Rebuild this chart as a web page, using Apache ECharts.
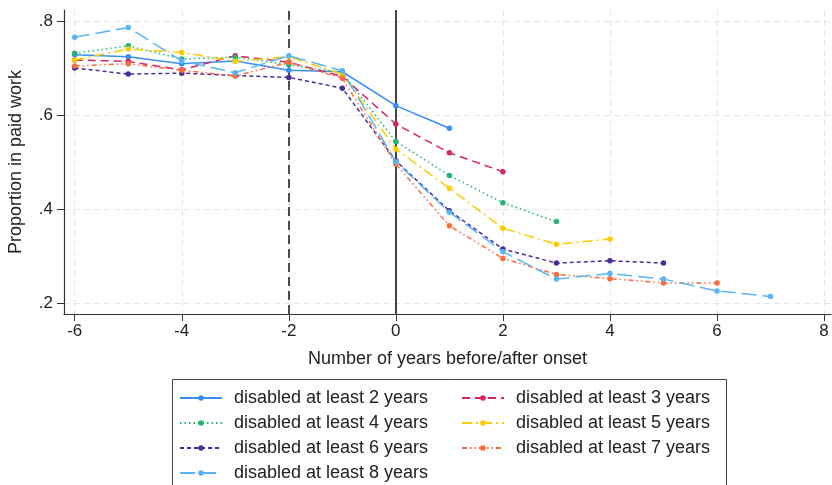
<!DOCTYPE html>
<html>
<head>
<meta charset="utf-8">
<title>Proportion in paid work</title>
<script src="https://cdn.jsdelivr.net/npm/echarts@6.0.0/dist/echarts.min.js"></script>
<style>
  html, body { margin: 0; padding: 0; background: #fff; }
  #chart { width: 832px; height: 485px; }
</style>
</head>
<body>
<div id="chart"></div>
<script>
// years relative to onset, each group starts at -6
var years = [-6, -5, -4, -3, -2, -1, 0, 1, 2, 3, 4, 5, 6, 7];
var xTicks = [-6, -4, -2, 0, 2, 4, 6, 8];
var yTicks = [0.2, 0.4, 0.6, 0.8];

var names = ['disabled at least 2 years', 'disabled at least 3 years', 'disabled at least 4 years',
             'disabled at least 5 years', 'disabled at least 6 years', 'disabled at least 7 years',
             'disabled at least 8 years'];

var d2 = [0.728, 0.724, 0.709, 0.715, 0.695, 0.692, 0.620, 0.572];
var d3 = [0.717, 0.714, 0.696, 0.726, 0.712, 0.682, 0.581, 0.520, 0.480];
var d4 = [0.731, 0.747, 0.719, 0.723, 0.707, 0.690, 0.544, 0.472, 0.414, 0.374];
var d5 = [0.717, 0.740, 0.733, 0.714, 0.724, 0.687, 0.528, 0.445, 0.360, 0.326, 0.337];
var d6 = [0.700, 0.687, 0.689, 0.684, 0.680, 0.657, 0.503, 0.397, 0.316, 0.286, 0.291, 0.286];
var d7 = [0.704, 0.709, 0.695, 0.683, 0.712, 0.678, 0.496, 0.365, 0.296, 0.262, 0.253, 0.244, 0.244];
var d8 = [0.765, 0.786, 0.715, 0.690, 0.726, 0.694, 0.501, 0.394, 0.310, 0.252, 0.264, 0.252, 0.227, 0.215];

var groups = [d2, d3, d4, d5, d6, d7, d8];
var colors = ['#3a8ef3', '#d8245f', '#22b573', '#fccb00', '#4b2c9b', '#fd6a3c', '#58b6f7'];
var dashes = ['solid', [8, 5], [1.5, 3], [10, 4, 2, 4], [4, 3], [5, 3, 1.5, 3, 1.5, 3], [15, 6]];

var font = 'Liberation Sans, Helvetica, Arial, sans-serif';

var chart = echarts.init(document.getElementById('chart'));

var series = groups.map(function (vals, i) {
  var s = {
    name: names[i],
    type: 'line',
    data: vals.map(function (v, j) { return [years[j], v]; }),
    symbol: 'circle',
    symbolSize: 5.5,
    color: colors[i],
    lineStyle: { width: 1.5, type: dashes[i], color: colors[i] },
    itemStyle: { color: colors[i] },
    z: 3 + i
  };
  if (i === 0) {
    s.markLine = {
      silent: true,
      symbol: 'none',
      label: { show: false },
      z: 2,
      data: [
        { xAxis: -2, lineStyle: { color: '#222', width: 1.6, type: [9, 5] } },
        { xAxis: 0, lineStyle: { color: '#444', width: 2, type: 'solid' } }
      ]
    };
  }
  return s;
});

var option = {
  animation: false,
  grid: { left: 64, right: 1, top: 10, bottom: 171, containLabel: false, outerBoundsMode: 'none' },
  xAxis: {
    type: 'value',
    min: -6.2, max: 8.13,
    name: 'Number of years before/after onset',
    nameLocation: 'middle',
    nameGap: 36,
    nameTextStyle: { fontFamily: font, fontSize: 18, color: '#222' },
    axisLine: { show: true, onZero: false, lineStyle: { color: '#333', width: 1.2 } },
    axisTick: { show: true, length: 7, customValues: xTicks, lineStyle: { color: '#333' } },
    axisLabel: { customValues: xTicks, margin: 9, fontFamily: font, fontSize: 17, color: '#222' },
    splitLine: { show: true, lineStyle: { color: '#e6e6e6', type: [6, 4], width: 1.2 } }
  },
  yAxis: {
    type: 'value',
    min: 0.178, max: 0.823,
    name: 'Proportion in paid work',
    nameLocation: 'middle',
    nameGap: 39,
    nameTextStyle: { fontFamily: font, fontSize: 18, color: '#222' },
    axisLine: { show: true, onZero: false, lineStyle: { color: '#333', width: 1.2 } },
    axisTick: { show: true, length: 7, customValues: yTicks, lineStyle: { color: '#333' } },
    axisLabel: {
      customValues: yTicks, margin: 11, fontFamily: font, fontSize: 17, color: '#222',
      formatter: function (v) { return v.toFixed(1).replace(/^0/, ''); }
    },
    splitLine: { show: true, lineStyle: { color: '#e6e6e6', type: [6, 4], width: 1.2 } }
  },
  legend: {
    left: 179,
    top: 389,
    padding: 0,
    itemGap: 7,
    itemWidth: 42,
    itemHeight: 7,
    data: names,
    textStyle: {
      fontFamily: font, fontSize: 18, color: '#222',
      width: 194, lineHeight: 18, padding: [0, 26, 0, 7]
    }
  },
  graphic: [{
    type: 'rect',
    shape: { x: 172.5, y: 379.5, width: 554, height: 120 },
    style: { fill: 'none', stroke: '#444', lineWidth: 1 },
    silent: true
  }],
  series: series
};

chart.setOption(option);
</script>
</body>
</html>
